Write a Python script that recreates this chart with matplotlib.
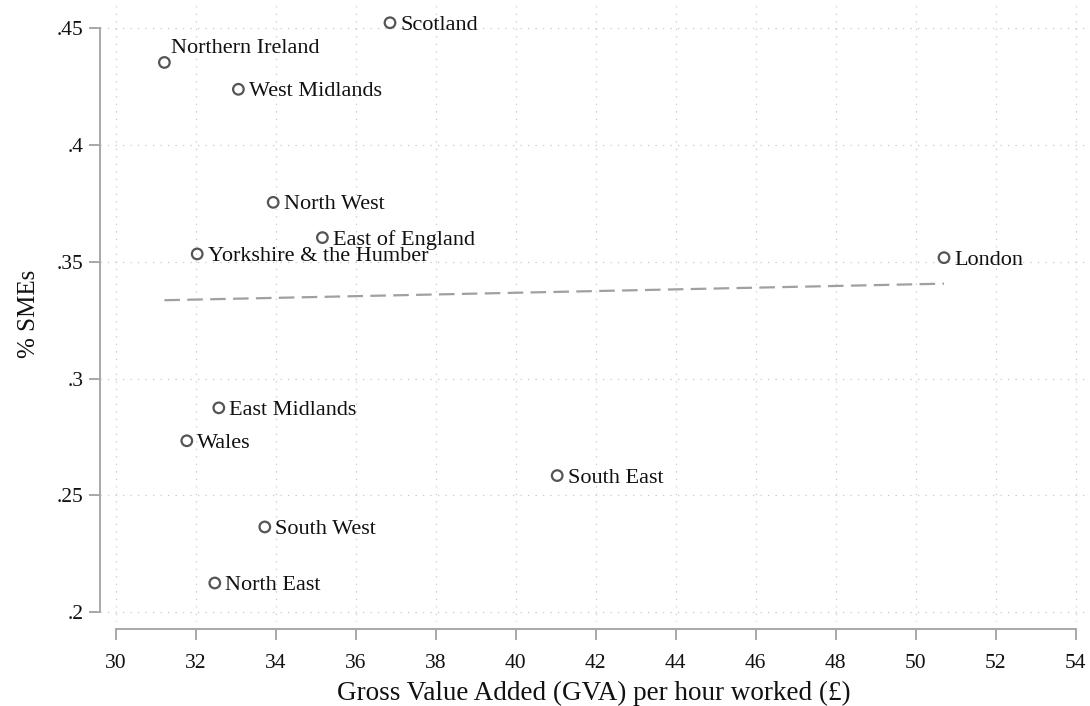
import numpy as np
import matplotlib
matplotlib.use("Agg")
import matplotlib.pyplot as plt
from matplotlib.ticker import FixedLocator, FixedFormatter

# Regional data: productivity vs. share of SMEs
regions = ["Scotland", "Northern Ireland", "West Midlands", "North West",
           "East of England", "Yorkshire & the Humber", "London",
           "East Midlands", "Wales", "South East", "South West", "North East"]
gva_per_hour = [36.86, 31.22, 33.07, 33.94, 35.17, 32.04, 50.71,
                32.58, 31.78, 41.04, 33.73, 32.48]
sme_share = [0.4524, 0.4354, 0.4239, 0.3755, 0.3604, 0.3534, 0.3518,
             0.2875, 0.2734, 0.2585, 0.2365, 0.2125]

x_ticks = list(range(30, 55, 2))
y_ticks = [0.2, 0.25, 0.3, 0.35, 0.4, 0.45]
y_tick_labels = [".2", ".25", ".3", ".35", ".4", ".45"]

plt.rcParams["font.family"] = ["Liberation Serif", "DejaVu Serif"]

W, H = 1090, 706
fig = plt.figure(figsize=(W / 100, H / 100), dpi=100)
ax = fig.add_axes([100 / W, (H - 622) / H, (1088 - 100) / W, (622 - 5) / H])

ax.set_xlim(29.61, 54.31)
ax.set_ylim(0.1958, 0.4600)

# dotted grid
grid_kw = dict(color="#c8c8c8", lw=0.9, ls=(0, (1, 5)), zorder=0)
for xv in x_ticks:
    ax.axvline(xv, **grid_kw)
for yv in y_ticks:
    ax.axhline(yv, **grid_kw)

# linear fit over the data range
slope, intercept = np.polyfit(gva_per_hour, sme_share, 1)
xs = np.array([min(gva_per_hour), max(gva_per_hour)])
ax.plot(xs, intercept + slope * xs, color="#a0a0a0", lw=1.6,
        dashes=(7, 3.3), zorder=2)

ax.scatter(gva_per_hour, sme_share, s=58, facecolors="none",
           edgecolors="#555555", linewidths=1.6, zorder=3)

for name, xv, yv in zip(regions, gva_per_hour, sme_share):
    if name == "Northern Ireland":
        off = (4.5, 6.5)
    else:
        off = (7.5, -5.0)
    ax.annotate(name, (xv, yv), xytext=off, textcoords="offset points",
                ha="left", va="baseline", fontsize=16, color="#111111",
                zorder=4)

# Axes styling: detached spines bounded to tick range
for side in ("top", "right"):
    ax.spines[side].set_visible(False)
ax.spines["left"].set_bounds(0.2, 0.45)
ax.spines["bottom"].set_bounds(30, 54)
ax.spines["bottom"].set_position(("outward", 5))
for side in ("left", "bottom"):
    ax.spines[side].set_color("#a8a8a8")
    ax.spines[side].set_linewidth(1.4)

ax.xaxis.set_major_locator(FixedLocator(x_ticks))
ax.yaxis.set_major_locator(FixedLocator(y_ticks))
ax.yaxis.set_major_formatter(FixedFormatter(y_tick_labels))
ax.tick_params(axis="both", colors="#a8a8a8", labelcolor="#111111",
               length=8, width=1.4, labelsize=15.5)
ax.tick_params(axis="x", pad=10)
ax.tick_params(axis="y", pad=4)

ax.set_xlabel("Gross Value Added (GVA) per hour worked (£)", fontsize=19.5,
              color="#111111", labelpad=6)
ax.set_ylabel("% SMEs", fontsize=18, color="#111111", labelpad=12)

fig.savefig("out.png", dpi=100)
